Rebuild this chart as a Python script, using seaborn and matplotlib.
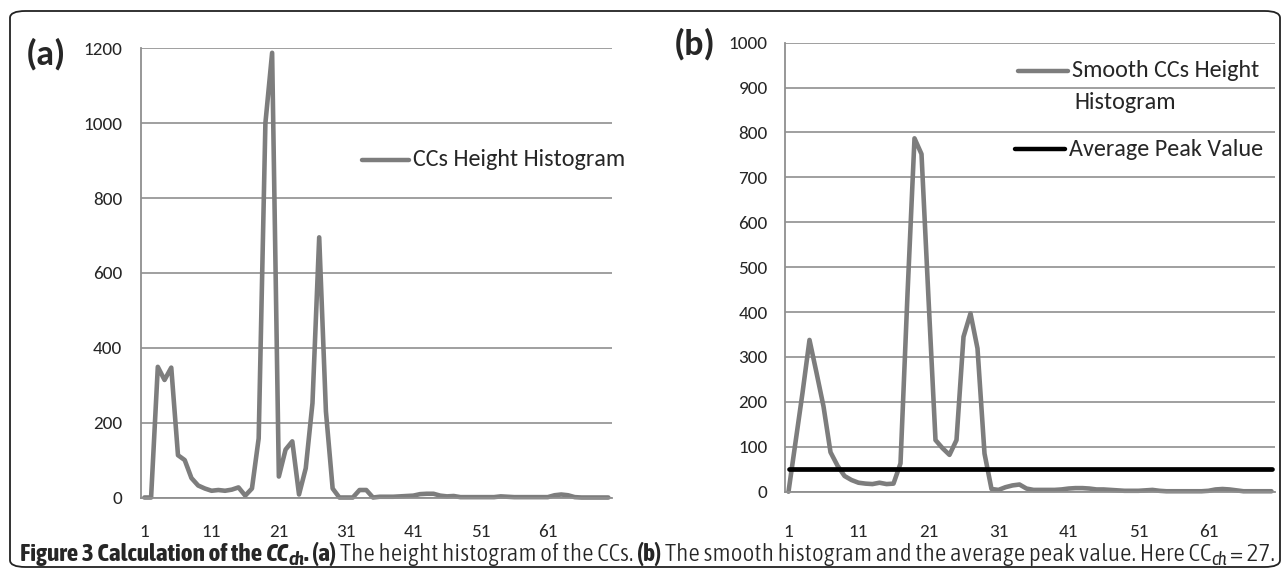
import numpy as np
import matplotlib
matplotlib.use("Agg")
from matplotlib import pyplot as plt
from matplotlib.lines import Line2D
from matplotlib.patches import FancyBboxPatch
import seaborn as sns

W, H = 1284, 571

# x categories (bins 1..70) and the labels Excel shows on the axis
categories = list(range(1, 71))
tick_labels = [1, 11, 21, 31, 41, 51, 61]

# (a) raw CC height histogram
heights = [
    0, 0, 349, 314, 347, 113, 100, 52, 32, 24,
    18, 20, 18, 21, 27, 5, 24, 158, 1000, 1188,
    56, 128, 150, 8, 78, 252, 695, 230, 24, 0,
    0, 0, 20, 20, 0, 2, 2, 2, 3, 4,
    5, 9, 10, 10, 5, 3, 4, 1, 1, 1,
    1, 1, 1, 3, 2, 1, 1, 1, 1, 1,
    1, 6, 8, 6, 1, 0, 0, 0, 0, 0,
]

# (b) smoothed histogram and the average peak value
smooth = [
    0, 110, 220, 338, 265, 190, 88, 58, 35, 26,
    20, 18, 17, 20, 17, 18, 63, 440, 787, 752,
    430, 115, 97, 82, 115, 345, 397, 319, 85, 6,
    4, 10, 14, 16, 7, 4, 4, 4, 4, 5,
    7, 8, 8, 7, 5, 5, 4, 3, 2, 2,
    2, 3, 4, 2, 1, 1, 1, 1, 1, 1,
    2, 5, 6, 5, 3, 1, 1, 1, 1, 1,
]
avg_peak = 50

LINE_GRAY = "#7d7d7d"
GRID_GRAY = "#8f8f8f"
FONT = ["Carlito", "Open Sans", "DejaVu Sans"]
CAP_FONT = ["Asap Condensed", "Barlow Semi Condensed", "Open Sans", "DejaVu Sans"]

sns.set_style("white")
plt.rcParams["font.family"] = FONT

fig = plt.figure(figsize=(W / 100, H / 100), dpi=100)
R = fig.canvas.get_renderer()


def fit_size(s, target_px, **kw):
    # font size that gives a text of the wanted pixel width
    t = fig.text(0, 0, s, fontsize=10, **kw)
    w = t.get_window_extent(R).width
    t.remove()
    return 10 * target_px / w


TICK_SIZE = fit_size("1200", 39)
LEG_SIZE = np.mean([fit_size("CCs Height Histogram", 213),
                    fit_size("Smooth CCs Height", 189),
                    fit_size("Average Peak Value", 194)])
TAG_SIZE = fit_size("(a)", 40, fontweight="bold")


def px_axes(left, top, right, bottom):
    return fig.add_axes([left / W, 1 - bottom / H, (right - left) / W, (bottom - top) / H])


def style_axis(ax, ymax, ystep, ypad, xpad):
    ax.set_xlim(0.5, 70.5)
    ax.set_ylim(0, ymax)
    ax.set_yticks(np.arange(0, ymax + 1, ystep))
    ax.set_xticks(tick_labels)
    ax.set_xticks(np.arange(0.5, 71, 1), minor=True)
    ax.grid(axis="y", color=GRID_GRAY, lw=1.2)
    ax.grid(axis="x", visible=False)
    ax.set_axisbelow(True)
    for s in ("top", "right"):
        ax.spines[s].set_visible(False)
    for s in ("left", "bottom"):
        ax.spines[s].set_color(GRID_GRAY)
        ax.spines[s].set_linewidth(1.3)
    ax.tick_params(axis="y", length=4, width=1.1, color=GRID_GRAY,
                   labelsize=TICK_SIZE, pad=ypad)
    ax.tick_params(axis="x", which="major", length=0, labelsize=TICK_SIZE, pad=xpad)
    ax.tick_params(axis="x", which="minor", length=3.5, width=1.1, color=GRID_GRAY)
    ax.set_xlabel("")
    ax.set_ylabel("")
    ax.patch.set_alpha(0)


def legend_entry(x0, x1, y, color, label, tx):
    fig.add_artist(Line2D([x0 / W, x1 / W], [1 - y / H] * 2, color=color, lw=3.2,
                          solid_capstyle="round", transform=fig.transFigure))
    fig.text(tx / W, 1 - y / H, label, fontsize=LEG_SIZE, va="center", ha="left")


# ---- panel (a)
ax_a = px_axes(141, 48.3, 611.7, 497.5)
sns.lineplot(x=categories, y=heights, ax=ax_a, color=LINE_GRAY, lw=3.3,
             solid_joinstyle="round", solid_capstyle="round", clip_on=False)
style_axis(ax_a, 1200, 200, ypad=9.5, xpad=19)
legend_entry(362, 409, 160, LINE_GRAY, "CCs Height Histogram", 413)
fig.text(26 / W, 1 - 54 / H, "(a)", fontsize=TAG_SIZE, fontweight="bold", va="center")

# ---- panel (b)
ax_b = px_axes(785, 42.7, 1275, 491.7)
sns.lineplot(x=categories, y=smooth, ax=ax_b, color=LINE_GRAY, lw=3.3,
             solid_joinstyle="round", solid_capstyle="round", clip_on=False)
sns.lineplot(x=categories, y=np.full(len(categories), avg_peak), ax=ax_b,
             color="black", lw=3.4, solid_capstyle="round", clip_on=False)
style_axis(ax_b, 1000, 100, ypad=8.5, xpad=23)
legend_entry(1018, 1068, 70.5, LINE_GRAY, "Smooth CCs Height", 1072)
fig.text(1074 / W, 1 - 102.5 / H, "Histogram", fontsize=LEG_SIZE, va="center")
legend_entry(1015, 1065, 149, "black", "Average Peak Value", 1069)
fig.text(674 / W, 1 - 44 / H, "(b)", fontsize=TAG_SIZE, fontweight="bold", va="center")

# ---- frame around the figure
fig.add_artist(FancyBboxPatch((10 / W, 1 - 567 / H), 1270 / W, 556 / H,
                              boxstyle="round,pad=0,rounding_size=0.012",
                              transform=fig.transFigure, fill=False,
                              edgecolor="#222222", lw=1.3))

# ---- caption: (text, weight, style, relative size, raise px, space before)
caption = [
    ("Figure 3 Calculation of the", "bold", "normal", 1.0, 0, False),
    ("CC", "bold", "italic", 1.0, 0, True),
    ("ch", "bold", "italic", 0.72, -4, False),
    (".", "bold", "normal", 1.0, 0, False),
    ("(a)", "bold", "normal", 1.0, 0, True),
    ("The height histogram of the CCs.", 300, "normal", 1.0, 0, True),
    ("(b)", "bold", "normal", 1.0, 0, True),
    ("The smooth histogram and the average peak value. Here CC", 300, "normal", 1.0, 0, True),
    ("ch", "normal", "italic", 0.72, -4, False),
    ("= 27.", 300, "normal", 1.0, 0, True),
]


def put_caption(pieces, x0, x1, base, size):
    def width(s, sz):
        t = fig.text(0, 0, s, fontsize=sz, family=CAP_FONT)
        w = t.get_window_extent(R).width
        t.remove()
        return w

    for attempt in range(2):
        space = width("a a", size) - width("aa", size)
        arts, x = [], x0
        for text, weight, style, rel, dy, gap in pieces:
            if gap:
                x += space
            t = fig.text(x / W, 1 - (base - dy) / H, text, va="baseline", ha="left",
                         fontsize=size * rel, fontweight=weight, fontstyle=style,
                         family=CAP_FONT)
            x += t.get_window_extent(R).width
            arts.append(t)
        if attempt == 0:
            for a in arts:
                a.remove()
            size *= (x1 - x0) / (x - x0)


put_caption(caption, 20, 1270, 561, 12)

fig.savefig("out.png", dpi=100)
